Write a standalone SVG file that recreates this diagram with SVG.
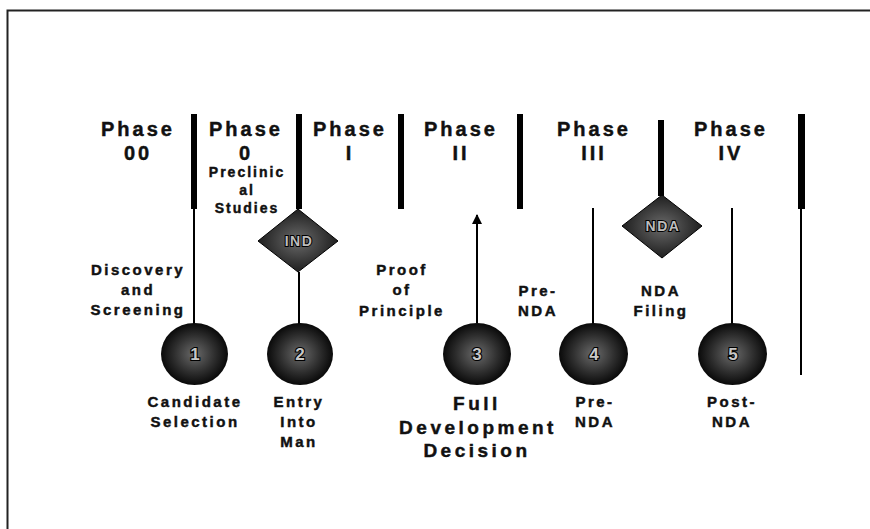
<svg xmlns="http://www.w3.org/2000/svg" width="870" height="529" viewBox="0 0 870 529">
<defs>
<radialGradient id="ball" cx="0.5" cy="0.5" r="0.55">
<stop offset="0" stop-color="#6a6a6a"/>
<stop offset="0.55" stop-color="#2e2e2e"/>
<stop offset="1" stop-color="#000"/>
</radialGradient>
<radialGradient id="dia" cx="0.5" cy="0.5" r="0.6">
<stop offset="0" stop-color="#6a6a6a"/>
<stop offset="0.6" stop-color="#333"/>
<stop offset="1" stop-color="#111"/>
</radialGradient>
<marker id="arr" viewBox="0 0 10 10" refX="9" refY="5" markerWidth="10" markerHeight="10" markerUnits="userSpaceOnUse" orient="auto">
<path d="M0,0 L10,5 L0,10 Z" fill="#000"/>
</marker>
</defs>
<style>
text{font-family:"Liberation Sans",Arial,sans-serif;font-weight:bold;fill:#111;stroke:#111;stroke-width:0.45;text-anchor:middle}
.ph{font-size:20px;letter-spacing:3px}
.lb{font-size:15px;letter-spacing:2.5px}
.sm{font-size:14px;letter-spacing:2px}
.big{font-size:19px;letter-spacing:3.5px}
.num{font-size:17px;fill:#c8c8c8;stroke:#000;stroke-width:2.2;paint-order:stroke}
.dt{font-size:14px;fill:#bdbdbd;stroke:#000;stroke-width:2;paint-order:stroke;letter-spacing:1.5px}
.bar{fill:#000}
.thin{stroke:#000;stroke-width:2;fill:none}
.ball{fill:url(#ball)}
.dia{fill:url(#dia);stroke:#000;stroke-width:1}
</style>
<rect width="870" height="529" fill="#fff"/>
<path d="M7.5,529 V10.5 H870" fill="none" stroke="#222" stroke-width="2"/>

<g id="connectors">
<rect class="bar" x="191" y="114" width="6" height="95"/>
<rect class="bar" x="296" y="114" width="6" height="95"/>
<rect class="bar" x="398" y="114" width="6" height="95"/>
<rect class="bar" x="517" y="114" width="6" height="95"/>
<rect class="bar" x="658" y="120" width="6" height="76"/>
<rect class="bar" x="798" y="114" width="7" height="95"/>
<line class="thin" x1="194" y1="209" x2="194" y2="324"/>
<line class="thin" x1="299" y1="272" x2="299" y2="324"/>
<line class="thin" x1="477" y1="323" x2="477" y2="215" marker-end="url(#arr)"/>
<line class="thin" x1="593" y1="208" x2="593" y2="324"/>
<line class="thin" x1="732" y1="208" x2="732" y2="324"/>
<line class="thin" x1="801" y1="209" x2="801" y2="375"/>
</g>

<g id="phase00"><text class="ph" x="138" y="136">Phase</text><text class="ph" x="138" y="160">00</text></g>
<g id="phase0"><text class="ph" x="246" y="136">Phase</text><text class="ph" x="246" y="160">0</text>
<text class="sm" x="247" y="177">Preclinic</text><text class="sm" x="247" y="195">al</text><text class="sm" x="247" y="213">Studies</text></g>
<g id="phaseI"><text class="ph" x="350" y="136">Phase</text><text class="ph" x="350" y="160">I</text></g>
<g id="phaseII"><text class="ph" x="461" y="136">Phase</text><text class="ph" x="461" y="160">II</text></g>
<g id="phaseIII"><text class="ph" x="594" y="136">Phase</text><text class="ph" x="594" y="160">III</text></g>
<g id="phaseIV"><text class="ph" x="731" y="136">Phase</text><text class="ph" x="731" y="160">IV</text></g>

<g id="ind"><path class="dia" d="M298,209 L338,241 L298,272 L258,241 Z"/><text class="dt" x="299" y="246">IND</text></g>
<g id="nda"><path class="dia" d="M662,195 L702,226 L662,258 L622,226 Z"/><text class="dt" x="663" y="231">NDA</text></g>

<g id="discovery"><text class="lb" x="138" y="275">Discovery</text><text class="lb" x="138" y="295">and</text><text class="lb" x="138" y="315">Screening</text></g>
<g id="proof"><text class="lb" x="402" y="275">Proof</text><text class="lb" x="402" y="295">of</text><text class="lb" x="402" y="316">Principle</text></g>
<g id="prenda-mid"><text class="lb" x="538" y="296">Pre-</text><text class="lb" x="538" y="316">NDA</text></g>
<g id="ndafiling"><text class="lb" x="661" y="296">NDA</text><text class="lb" x="661" y="316">Filing</text></g>

<g id="m1"><ellipse class="ball" cx="194.5" cy="354" rx="33.5" ry="31"/><text class="num" x="195" y="360">1</text></g>
<g id="m2"><ellipse class="ball" cx="300" cy="354" rx="33" ry="31"/><text class="num" x="300" y="360">2</text></g>
<g id="m3"><ellipse class="ball" cx="477" cy="354" rx="34" ry="31"/><text class="num" x="477" y="360">3</text></g>
<g id="m4"><ellipse class="ball" cx="593.5" cy="354" rx="34.5" ry="31"/><text class="num" x="594" y="360">4</text></g>
<g id="m5"><ellipse class="ball" cx="732.5" cy="354" rx="34.5" ry="31"/><text class="num" x="733" y="360">5</text></g>

<g id="candidate"><text class="lb" x="195" y="407">Candidate</text><text class="lb" x="195" y="427">Selection</text></g>
<g id="entry"><text class="lb" x="299" y="407">Entry</text><text class="lb" x="299" y="427">Into</text><text class="lb" x="299" y="447">Man</text></g>
<g id="fulldev"><text class="big" x="477" y="410">Full</text><text class="big" x="478" y="434">Development</text><text class="big" x="477" y="457">Decision</text></g>
<g id="prenda"><text class="lb" x="595" y="407">Pre-</text><text class="lb" x="595" y="427">NDA</text></g>
<g id="postnda"><text class="lb" x="732" y="407">Post-</text><text class="lb" x="732" y="427">NDA</text></g>
</svg>
